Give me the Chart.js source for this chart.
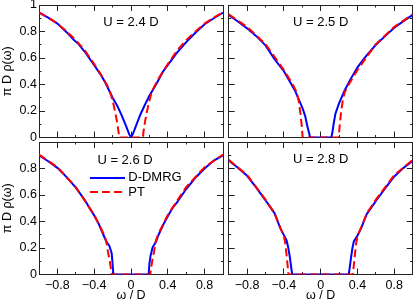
<!DOCTYPE html>
<html>
<head>
<meta charset="utf-8">
<script src="https://cdn.jsdelivr.net/npm/chart.js@4.4.0/dist/chart.umd.min.js"></script>
<style>
    html, body { margin: 0; padding: 0; background: #fff; }
    #wrap { position: relative; width: 415px; height: 303px; }
    #wrap canvas { position: absolute; left: 0; top: 0; }
</style>
</head>
<body>
<div id="wrap">
    <canvas id="p24" width="415" height="303"></canvas>
    <canvas id="p25" width="415" height="303"></canvas>
    <canvas id="p26" width="415" height="303"></canvas>
    <canvas id="p28" width="415" height="303"></canvas>
</div>
<script>
// U = 2.4 D
const omega24 = [-1, -0.9, -0.8, -0.7, -0.62, -0.57, -0.5, -0.4, -0.33, -0.28, -0.2, -0.15, -0.1, -0.05, -0.02, 0, 0.02, 0.05, 0.1, 0.15, 0.2, 0.28, 0.35, 0.42, 0.5, 0.6, 0.7, 0.8, 0.9, 1];
const dmrg24 = [0.942, 0.905, 0.86, 0.795, 0.735, 0.705, 0.645, 0.545, 0.475, 0.415, 0.3, 0.24, 0.165, 0.08, 0.025, 0, 0.025, 0.08, 0.17, 0.245, 0.315, 0.41, 0.5, 0.565, 0.64, 0.72, 0.79, 0.855, 0.9, 0.942];
const ptOmega24 = [-1, -0.9, -0.8, -0.7, -0.6, -0.5, -0.4, -0.3, -0.25, -0.22, -0.19, -0.17, -0.15, -0.135, -0.13, 0.13, 0.135, 0.15, 0.17, 0.19, 0.22, 0.25, 0.3, 0.4, 0.5, 0.6, 0.7, 0.8, 0.9, 1];
const pt24 = [0.945, 0.905, 0.86, 0.8, 0.735, 0.655, 0.555, 0.445, 0.38, 0.33, 0.25, 0.185, 0.11, 0.04, 0, 0, 0.04, 0.11, 0.185, 0.25, 0.33, 0.38, 0.445, 0.555, 0.655, 0.735, 0.8, 0.86, 0.905, 0.945];

// U = 2.5 D
const omega25 = [-1, -0.9, -0.8, -0.7, -0.6, -0.5, -0.4, -0.33, -0.28, -0.225, -0.2, -0.17, -0.145, -0.125, -0.115, 0.115, 0.125, 0.14, 0.16, 0.2, 0.26, 0.32, 0.4, 0.46, 0.5, 0.6, 0.7, 0.8, 0.9, 1];
const dmrg25 = [0.925, 0.875, 0.824, 0.765, 0.695, 0.59, 0.5, 0.415, 0.355, 0.265, 0.225, 0.165, 0.085, 0.03, 0, 0, 0.03, 0.1, 0.18, 0.26, 0.355, 0.435, 0.53, 0.585, 0.62, 0.7, 0.765, 0.828, 0.878, 0.925];
const ptOmega25 = [-1, -0.8, -0.6, -0.4, -0.3, -0.26, -0.24, -0.22, -0.205, -0.196, 0.196, 0.205, 0.22, 0.24, 0.26, 0.3, 0.4, 0.6, 0.8, 1];
const pt25 = [0.93, 0.835, 0.705, 0.51, 0.395, 0.34, 0.28, 0.18, 0.08, 0, 0, 0.08, 0.18, 0.28, 0.34, 0.395, 0.51, 0.705, 0.835, 0.93];

// U = 2.6 D
const omega26 = [-1, -0.9, -0.8, -0.7, -0.6, -0.5, -0.45, -0.4, -0.35, -0.3, -0.27, -0.235, -0.21, -0.2, -0.192, 0.192, 0.2, 0.212, 0.235, 0.27, 0.3, 0.35, 0.4, 0.45, 0.5, 0.6, 0.7, 0.8, 0.9, 1];
const dmrg26 = [0.9, 0.855, 0.805, 0.735, 0.655, 0.56, 0.5, 0.445, 0.38, 0.3, 0.25, 0.215, 0.16, 0.08, 0, 0, 0.08, 0.14, 0.205, 0.245, 0.3, 0.375, 0.44, 0.5, 0.545, 0.645, 0.73, 0.8, 0.86, 0.9];
const ptOmega26 = [-1, -0.8, -0.6, -0.4, -0.3, -0.27, -0.25, -0.23, -0.215, -0.21, 0.21, 0.215, 0.23, 0.25, 0.27, 0.3, 0.4, 0.6, 0.8, 1];
const pt26 = [0.905, 0.81, 0.66, 0.45, 0.31, 0.255, 0.17, 0.1, 0.03, 0, 0, 0.03, 0.1, 0.17, 0.255, 0.31, 0.45, 0.66, 0.81, 0.905];

// U = 2.8 D
const omega28 = [-1, -0.9, -0.8, -0.7, -0.6, -0.55, -0.5, -0.44, -0.4, -0.37, -0.352, -0.335, -0.32, -0.31, 0.305, 0.315, 0.33, 0.345, 0.36, 0.4, 0.44, 0.5, 0.55, 0.6, 0.7, 0.8, 0.9, 1];
const dmrg28 = [0.86, 0.805, 0.745, 0.655, 0.56, 0.51, 0.46, 0.35, 0.297, 0.255, 0.2, 0.13, 0.05, 0, 0, 0.05, 0.13, 0.2, 0.25, 0.295, 0.35, 0.455, 0.505, 0.555, 0.65, 0.74, 0.805, 0.857];
const ptOmega28 = [-1, -0.8, -0.6, -0.5, -0.44, -0.4, -0.385, -0.37, -0.36, -0.35, 0.35, 0.36, 0.37, 0.385, 0.4, 0.44, 0.5, 0.6, 0.8, 1];
const pt28 = [0.865, 0.75, 0.565, 0.46, 0.355, 0.29, 0.235, 0.14, 0.07, 0, 0, 0.07, 0.14, 0.235, 0.29, 0.355, 0.46, 0.565, 0.75, 0.865];

const seriesNames = ['D-DMRG', 'PT'];
const panelLabels = ['U = 2.4 D', 'U = 2.5 D', 'U = 2.6 D', 'U = 2.8 D'];
const xTitle = 'ω / D';
const yTitle = 'π D ρ(ω)';

const FONT = '"Liberation Sans", Arial, Helvetica, sans-serif';
const FRAME = '#222';
const W = 415, H = 303;
const MAJOR = 6, MINOR = 3;

const fmt = (v) => {
    const r = Math.round(v * 10) / 10;
    if (r === 0) return '0';
    return r < 0 ? '\u2212' + String(-r) : String(r);
};
const isMajorX = (v) => Math.round(v * 10) % 4 === 0;
const isMajorY = (v) => Math.round(v * 10) % 2 === 0;

// ticks point inward; minor ticks are cut short with a dash pattern
const dashFromBorder = (major) => (c) => (c.tick && major(c.tick.value)) ? [] : [MINOR, 40];
const dashFromInside = (major) => (c) => (c.tick && major(c.tick.value)) ? [] : [0, MAJOR + 0.5 - MINOR, MINOR, 40];

const panelText = {
    id: 'panelText',
    afterDatasetsDraw(chart, args, opts) {
        const { ctx, scales: { x, y } } = chart;
        ctx.save();
        ctx.font = '13px ' + FONT;
        ctx.fillStyle = '#000';
        ctx.textAlign = 'center';
        ctx.textBaseline = 'middle';
        ctx.fillText(opts.label, x.getPixelForValue(opts.at[0]), y.getPixelForValue(opts.at[1]));
        if (opts.legend) {
            const lg = opts.legend;
            chart.data.datasets.forEach((ds, i) => {
                const py = y.getPixelForValue(lg.y[i]);
                ctx.beginPath();
                ctx.strokeStyle = ds.borderColor;
                ctx.lineWidth = ds.borderWidth;
                ctx.setLineDash(ds.borderDash || []);
                ctx.moveTo(x.getPixelForValue(lg.x0), py);
                ctx.lineTo(x.getPixelForValue(lg.x1), py);
                ctx.stroke();
                ctx.setLineDash([]);
                ctx.textAlign = 'left';
                ctx.fillText(ds.label, x.getPixelForValue(lg.xText), py);
            });
        }
        ctx.restore();
    }
};

function axis(pos, cfg) {
    const horizontal = pos === 'top' || pos === 'bottom';
    const major = horizontal ? isMajorX : isMajorY;
    const showLabels = (pos === 'bottom' && cfg.showX) || (pos === 'left' && cfg.showY);
    return {
        type: 'linear',
        position: pos,
        min: horizontal ? -1 : 0,
        max: 1,
        border: { display: true, color: FRAME, width: 1 },
        grid: {
            drawOnChartArea: false,
            drawTicks: true,
            tickLength: -MAJOR,
            tickColor: FRAME,
            tickWidth: 1,
            tickBorderDash: (pos === 'bottom' || pos === 'right') ? dashFromBorder(major) : dashFromInside(major)
        },
        ticks: {
            display: showLabels,
            stepSize: horizontal ? 0.2 : 0.1,
            autoSkip: false,
            maxRotation: 0,
            padding: horizontal ? 10 : 8,
            color: '#000',
            font: { family: FONT, size: 12.5 },
            callback: (v) => {
                if (!major(v)) return '';
                if (!horizontal && !cfg.topRow && Math.round(v * 10) === 10) return '';
                return fmt(v);
            }
        },
        title: {
            display: showLabels,
            text: horizontal ? xTitle : yTitle,
            color: '#000',
            font: { family: FONT, size: 12.5 },
            padding: 0
        },
        afterFit: (s) => {
            if (pos === 'left') s.width = cfg.showY ? cfg.area.left : 0;
            else if (pos === 'bottom') s.height = cfg.showX ? H - cfg.area.bottom : 0;
            else if (horizontal) s.height = 0;
            else s.width = 0;
            s.paddingTop = 0; s.paddingBottom = 0; s.paddingLeft = 0; s.paddingRight = 0;
        }
    };
}

function makePanel(id, cfg) {
    const toPts = (xs, ys) => xs.map((x, i) => ({ x: x, y: ys[i] }));
    new Chart(document.getElementById(id), {
        type: 'line',
        data: {
            datasets: [
                {
                    label: seriesNames[0],
                    data: toPts(cfg.omega, cfg.dmrg),
                    borderColor: '#0000ff',
                    borderWidth: 2,
                    pointRadius: 0,
                    tension: 0,
                    order: 1
                },
                {
                    label: seriesNames[1],
                    data: toPts(cfg.ptOmega, cfg.pt),
                    borderColor: '#ff0000',
                    borderWidth: 2,
                    borderDash: [8, 4],
                    pointRadius: 0,
                    tension: 0,
                    order: 0
                }
            ]
        },
        options: {
            responsive: false,
            animation: false,
            devicePixelRatio: 1,
            layout: {
                padding: {
                    left: cfg.showY ? 0 : cfg.area.left,
                    right: W - cfg.area.right,
                    top: cfg.area.top,
                    bottom: cfg.showX ? 0 : H - cfg.area.bottom
                }
            },
            scales: {
                x: axis('bottom', cfg),
                x2: axis('top', cfg),
                y: axis('left', cfg),
                y2: axis('right', cfg)
            },
            plugins: {
                legend: { display: false },
                tooltip: { enabled: false },
                panelText: { label: cfg.label, at: cfg.labelAt, legend: cfg.legend }
            }
        },
        plugins: [panelText]
    });
}

const topRow = { top: 5, bottom: 137.5 };
const bottomRow = { top: 142, bottom: 274.5 };
const leftCol = { left: 39, right: 223 };
const rightCol = { left: 228.7, right: 412.7 };

makePanel('p24', {
    omega: omega24, dmrg: dmrg24, ptOmega: ptOmega24, pt: pt24,
    label: panelLabels[0], labelAt: [0, 0.865],
    area: { ...leftCol, ...topRow }, showX: false, showY: true, topRow: true
});
makePanel('p25', {
    omega: omega25, dmrg: dmrg25, ptOmega: ptOmega25, pt: pt25,
    label: panelLabels[1], labelAt: [0, 0.865],
    area: { ...rightCol, ...topRow }, showX: false, showY: false, topRow: true
});
makePanel('p26', {
    omega: omega26, dmrg: dmrg26, ptOmega: ptOmega26, pt: pt26,
    label: panelLabels[2], labelAt: [-0.065, 0.863],
    legend: { x0: -0.446, x1: -0.065, xText: -0.03, y: [0.729, 0.623] },
    area: { ...leftCol, ...bottomRow }, showX: true, showY: true, topRow: false
});
makePanel('p28', {
    omega: omega28, dmrg: dmrg28, ptOmega: ptOmega28, pt: pt28,
    label: panelLabels[3], labelAt: [0, 0.865],
    area: { ...rightCol, ...bottomRow }, showX: true, showY: false, topRow: false
});
</script>
</body>
</html>
